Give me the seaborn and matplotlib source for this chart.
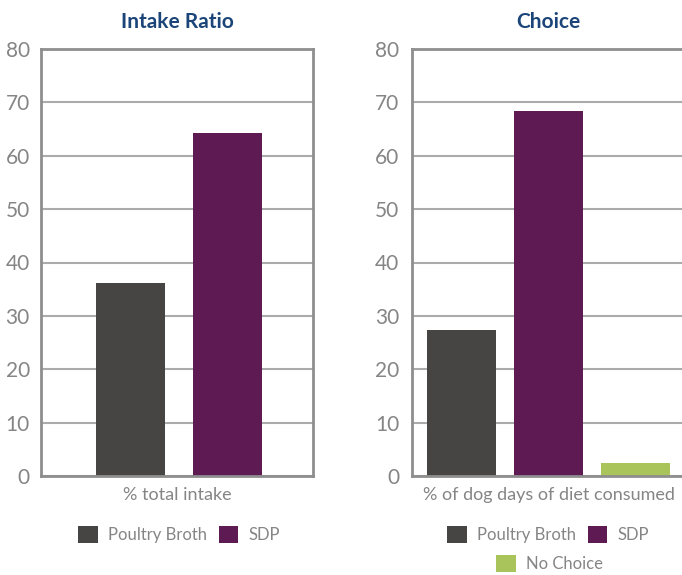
import matplotlib
matplotlib.use("Agg")
import matplotlib.pyplot as plt
import matplotlib.patches as mpatches
import seaborn as sns
import pandas as pd

# ---- data ----
intake_categories = ["Poultry Broth", "SDP"]
intake_values = [36.2, 64.3]
choice_categories = ["Poultry Broth", "SDP", "No Choice"]
choice_values = [27.4, 68.4, 2.4]
titles = ["Intake Ratio", "Choice"]
xlabels = ["% total intake", "% of dog days of diet consumed"]
yticks = [0, 10, 20, 30, 40, 50, 60, 70, 80]

colors = {"Poultry Broth": "#464544", "SDP": "#5e1a52", "No Choice": "#a9c45b"}
title_color = "#1b4579"
text_gray = "#858585"
spine_gray = "#8e8e8e"
grid_gray = "#ababab"

sns.set_theme(style="white")
plt.rcParams["font.family"] = ["Lato", "DejaVu Sans"]

W, H = 682, 575
fig = plt.figure(figsize=(W / 100, H / 100), dpi=100)

def px_axes(x0, x1, ytop, ybot):
    return fig.add_axes([x0 / W, 1 - ybot / H, (x1 - x0) / W, (ybot - ytop) / H])

ax1 = px_axes(41, 313, 49, 476)
ax2 = px_axes(412, 685, 49, 476)

df1 = pd.DataFrame({"cat": intake_categories, "val": intake_values})
df2 = pd.DataFrame({"cat": choice_categories, "val": choice_values})

sns.barplot(data=df1, x="cat", y="val", hue="cat", palette=colors, width=69 / 97,
            legend=False, ax=ax1, saturation=1)
sns.barplot(data=df2, x="cat", y="val", hue="cat", palette=colors, width=69 / 87,
            legend=False, ax=ax2, saturation=1)

ax1.set_xlim((41 - 130.5) / 97, (313 - 130.5) / 97)
ax2.set_xlim((412 - 461.5) / 87, (685 - 461.5) / 87)

for ax, title, xl, pad in zip([ax1, ax2], titles, xlabels, [8, 9]):
    ax.set_ylim(0, 80)
    ax.set_yticks(yticks)
    ax.set_xticks([])
    ax.set_ylabel("")
    ax.set_xlabel(xl, fontsize=13, color=text_gray, labelpad=8)
    ax.set_title(title, fontsize=15, fontweight="bold", color=title_color, pad=15)
    ax.tick_params(axis="y", length=0, pad=pad, labelsize=15, labelcolor=text_gray)
    ax.yaxis.grid(True, color=grid_gray, linewidth=1.5)
    ax.set_axisbelow(True)
    for s in ax.spines.values():
        s.set_visible(True)
        s.set_color(spine_gray)
        s.set_linewidth(2)
    for bar in ax.patches:
        bar.set_edgecolor("none")

def handles(cats):
    return [mpatches.Patch(facecolor=colors[c], edgecolor="none", label=c) for c in cats]

legkw = dict(frameon=False, fontsize=12, labelcolor=text_gray, handlelength=1.15,
             handleheight=1.15, handletextpad=0.6, columnspacing=0.75,
             borderaxespad=0, borderpad=0)

fig.legend(handles=handles(intake_categories), ncol=2, loc="center",
           bbox_to_anchor=(179 / W, 1 - 534.5 / H), **legkw)
fig.legend(handles=handles(choice_categories[:2]), ncol=2, loc="center",
           bbox_to_anchor=(548 / W, 1 - 534.5 / H), **legkw)
fig.legend(handles=handles(choice_categories[2:]), ncol=1, loc="center",
           bbox_to_anchor=(549.5 / W, 1 - 563.5 / H), **legkw)

fig.savefig("out.png", dpi=100)
